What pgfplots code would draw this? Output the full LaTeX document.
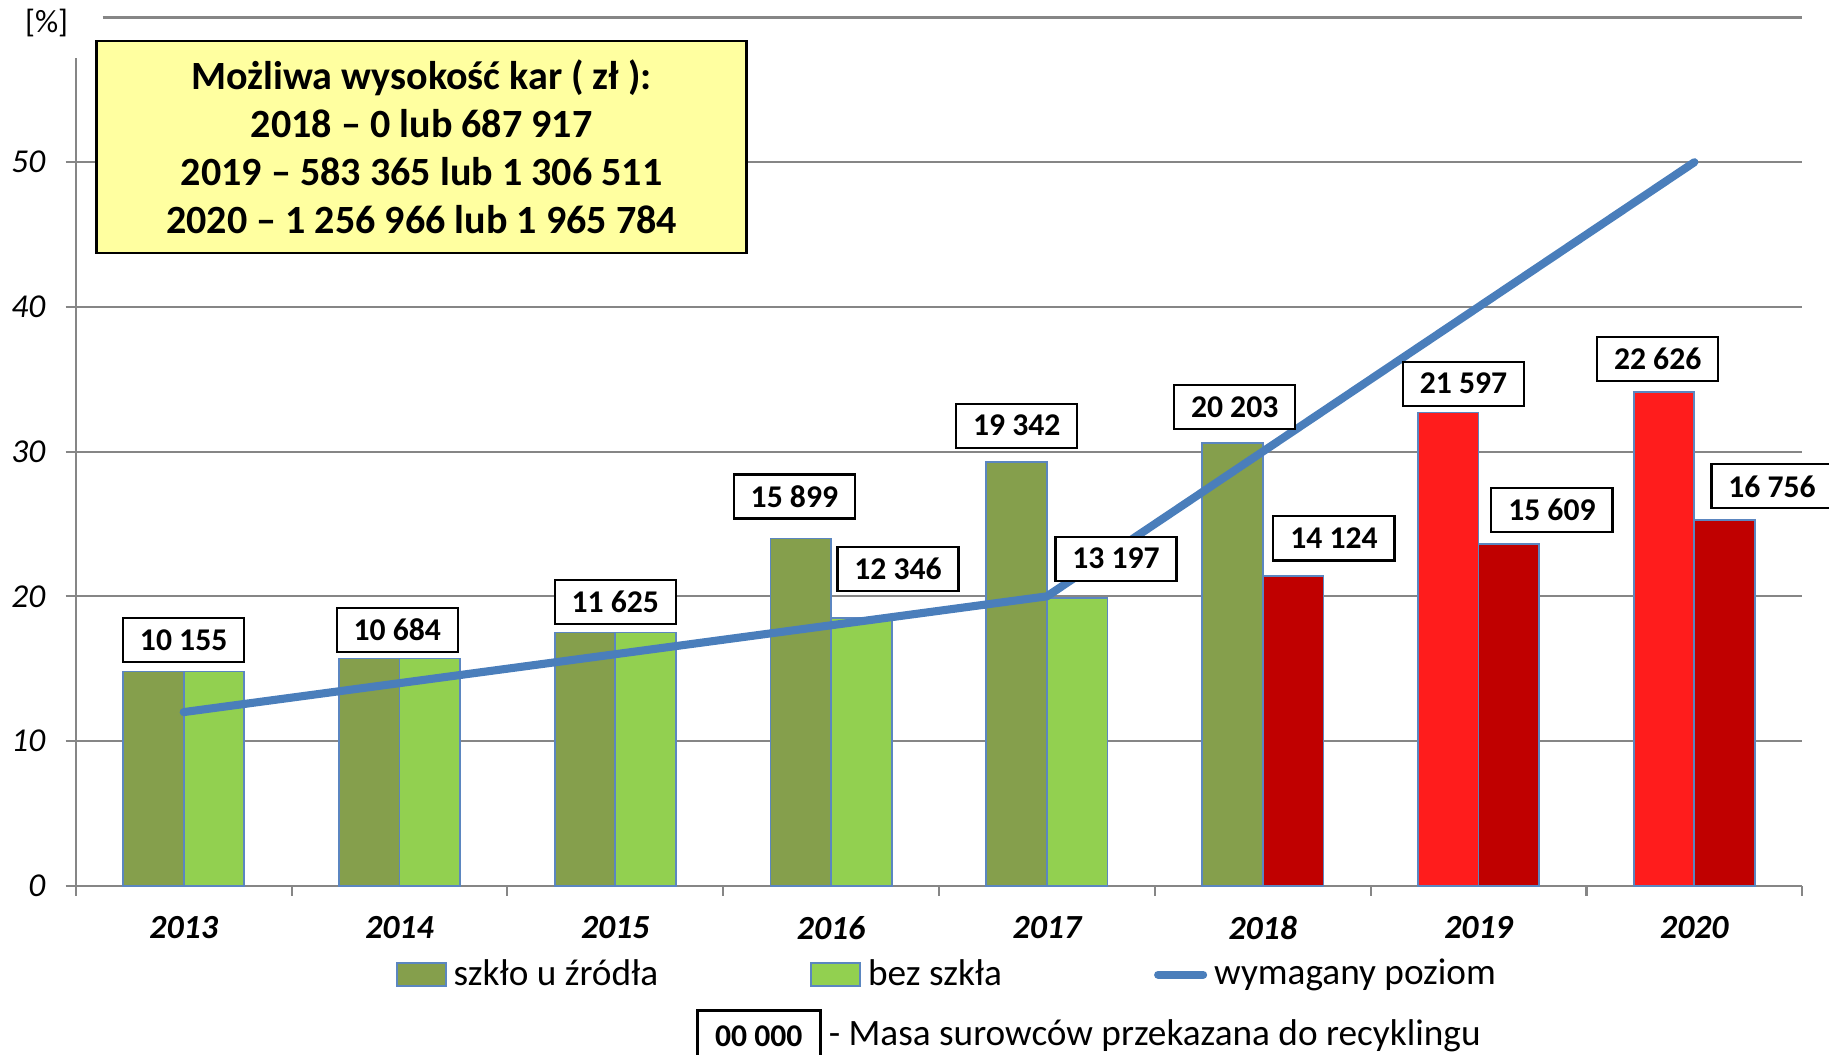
\documentclass[border=0pt]{standalone}
\usepackage{pgfplots}
\pgfplotsset{compat=1.18}
\usepackage{fontspec}
\setmainfont{Carlito}
\definecolor{dgreen}{RGB}{133,159,76}
\definecolor{lgreen}{RGB}{146,208,80}
\definecolor{bred}{RGB}{255,28,28}
\definecolor{dred}{RGB}{192,0,0}
\definecolor{lblue}{RGB}{74,126,187}
\definecolor{bedge}{RGB}{91,134,192}
\definecolor{boxy}{RGB}{255,255,160}
\definecolor{gridc}{RGB}{134,134,134}
\tikzset{lab/.style={draw=black, fill=white, line width=0.6pt, minimum width=1.21cm, minimum height=0.44cm, inner sep=0pt, font=\bfseries\fontsize{9}{10}\selectfont}}
\begin{document}
\begin{tikzpicture}
\begin{axis}[
  scale only axis, width=17.26cm, height=8.68cm,
  xmin=-0.5, xmax=7.5, ymin=0, ymax=60,
  axis lines*=left, axis line style={draw=none},
  ytick={0,10,...,50}, ymajorgrids, grid style={gridc, line width=0.6pt},
  tick align=outside, major tick length=0.1cm, tick style={gridc, line width=0.6pt},
  yticklabel style={font=\fontsize{9.5}{10}\selectfont\itshape, xshift=-0.08cm},
  /pgf/number format/assume math mode=true,
  xtick={-0.5,0.5,1.5,2.5,3.5,4.5,5.5,6.5,7.5}, xticklabels={},
  extra x ticks={0,1,2,3,4,5,6,7},
  extra x tick labels={2013,2014,2015,2016,2017,2018,2019,2020},
  extra x tick style={major tick length=0pt, xticklabel style={anchor=center, yshift=-0.42cm, font=\bfseries\itshape\fontsize{9.6}{10}\selectfont}},
  clip=false,
  legend columns=3,
  legend cell align=left,
  legend style={draw=none, fill=none, at={(0.506,-0.1025)}, anchor=center, font=\fontsize{10.6}{12}\selectfont, /tikz/every even column/.append style={column sep=1.45cm}},
]
% bars
\addplot[ybar, bar width=0.281, bar shift=0pt, fill=dgreen, draw=bedge, line width=0.5pt,
  legend image code/.code={\draw[fill=dgreen, draw=bedge, line width=0.5pt] (0cm,-0.115cm) rectangle (0.49cm,0.115cm);}]
  coordinates {(-0.1405,14.8) (0.8595,15.7) (1.8595,17.5) (2.8595,24.0) (3.8595,29.3) (4.8595,30.6)};
\addlegendentry{szkło u źródła}
\addplot[ybar, bar width=0.281, bar shift=0pt, fill=lgreen, draw=bedge, line width=0.5pt,
  legend image code/.code={\draw[fill=lgreen, draw=bedge, line width=0.5pt] (0cm,-0.115cm) rectangle (0.49cm,0.115cm);}]
  coordinates {(0.1405,14.8) (1.1405,15.7) (2.1405,17.5) (3.1405,18.5) (4.1405,19.9)};
\addlegendentry{bez szkła}
\addplot[ybar, bar width=0.281, bar shift=0pt, fill=bred, draw=bedge, line width=0.5pt, forget plot]
  coordinates {(5.8595,32.7) (6.8595,34.1)};
\addplot[ybar, bar width=0.281, bar shift=0pt, fill=dred, draw=bedge, line width=0.5pt, forget plot]
  coordinates {(5.1405,21.4) (6.1405,23.6) (7.1405,25.3)};
% required level
\addplot[sharp plot, lblue, line width=2.3pt, line cap=round, line join=round, mark=none,
  legend image code/.code={\draw[lblue, line width=2.3pt, line cap=round] (0cm,0cm) -- (0.45cm,0cm);}]
  coordinates {(0,12) (1,14) (2,16) (3,18) (4,20) (5,30) (6,40) (7,50)};
\addlegendentry{wymagany poziom}
% axis lines
\draw[gridc, line width=0.6pt] (axis cs:-0.5,0) -- (axis cs:-0.5,57.2);
\draw[gridc, line width=0.6pt] (axis cs:-0.376,60) -- (axis cs:7.5,60);
\node[font=\fontsize{9.2}{10}\selectfont] at (axis cs:-0.635,59.6) {[\%]};
% data labels
\node[lab] at (axis cs:0.00,17.0) {10 155};
\node[lab] at (axis cs:0.99,17.7) {10 684};
\node[lab] at (axis cs:2.00,19.6) {11 625};
\node[lab] at (axis cs:2.83,26.9) {15 899};
\node[lab] at (axis cs:3.31,21.9) {12 346};
\node[lab] at (axis cs:3.86,31.8) {19 342};
\node[lab] at (axis cs:4.32,22.6) {13 197};
\node[lab] at (axis cs:4.87,33.1) {20 203};
\node[lab] at (axis cs:5.33,24.0) {14 124};
\node[lab] at (axis cs:5.93,34.7) {21 597};
\node[lab] at (axis cs:6.34,25.95) {15 609};
\node[lab] at (axis cs:6.83,36.4) {22 626};
\node[lab] at (axis cs:7.36,27.6) {16 756};
% yellow box
\node[draw=black, fill=boxy, line width=0.8pt, minimum width=6.5cm, minimum height=2.12cm, align=center, inner sep=0pt,
  font=\bfseries\fontsize{11.4}{13.7}\selectfont] at (axis cs:1.103,51.05)
  {Możliwa wysokość kar ( zł ):\\2018 – 0 lub 687 917\\2019 – 583 365 lub 1 306 511\\2020 – 1 256 966 lub 1 965 784};
% bottom note
\draw[black, line width=0.8pt] (axis cs:2.381,-12) -- (axis cs:2.381,-8.63) -- (axis cs:2.949,-8.63) -- (axis cs:2.949,-12);
\node[font=\bfseries\fontsize{9}{10}\selectfont] at (axis cs:2.665,-10.4) {00 000};
\node[anchor=west, inner sep=0pt, font=\fontsize{10.6}{12}\selectfont] at (axis cs:2.986,-10.4) {- Masa surowców przekazana do recyklingu};
\coordinate (BL) at (axis cs:-0.851,-11.69);
\coordinate (TR) at (axis cs:7.624,61.21);
\end{axis}
\pgfresetboundingbox
\useasboundingbox (BL) rectangle (TR);
\end{tikzpicture}
\end{document}
